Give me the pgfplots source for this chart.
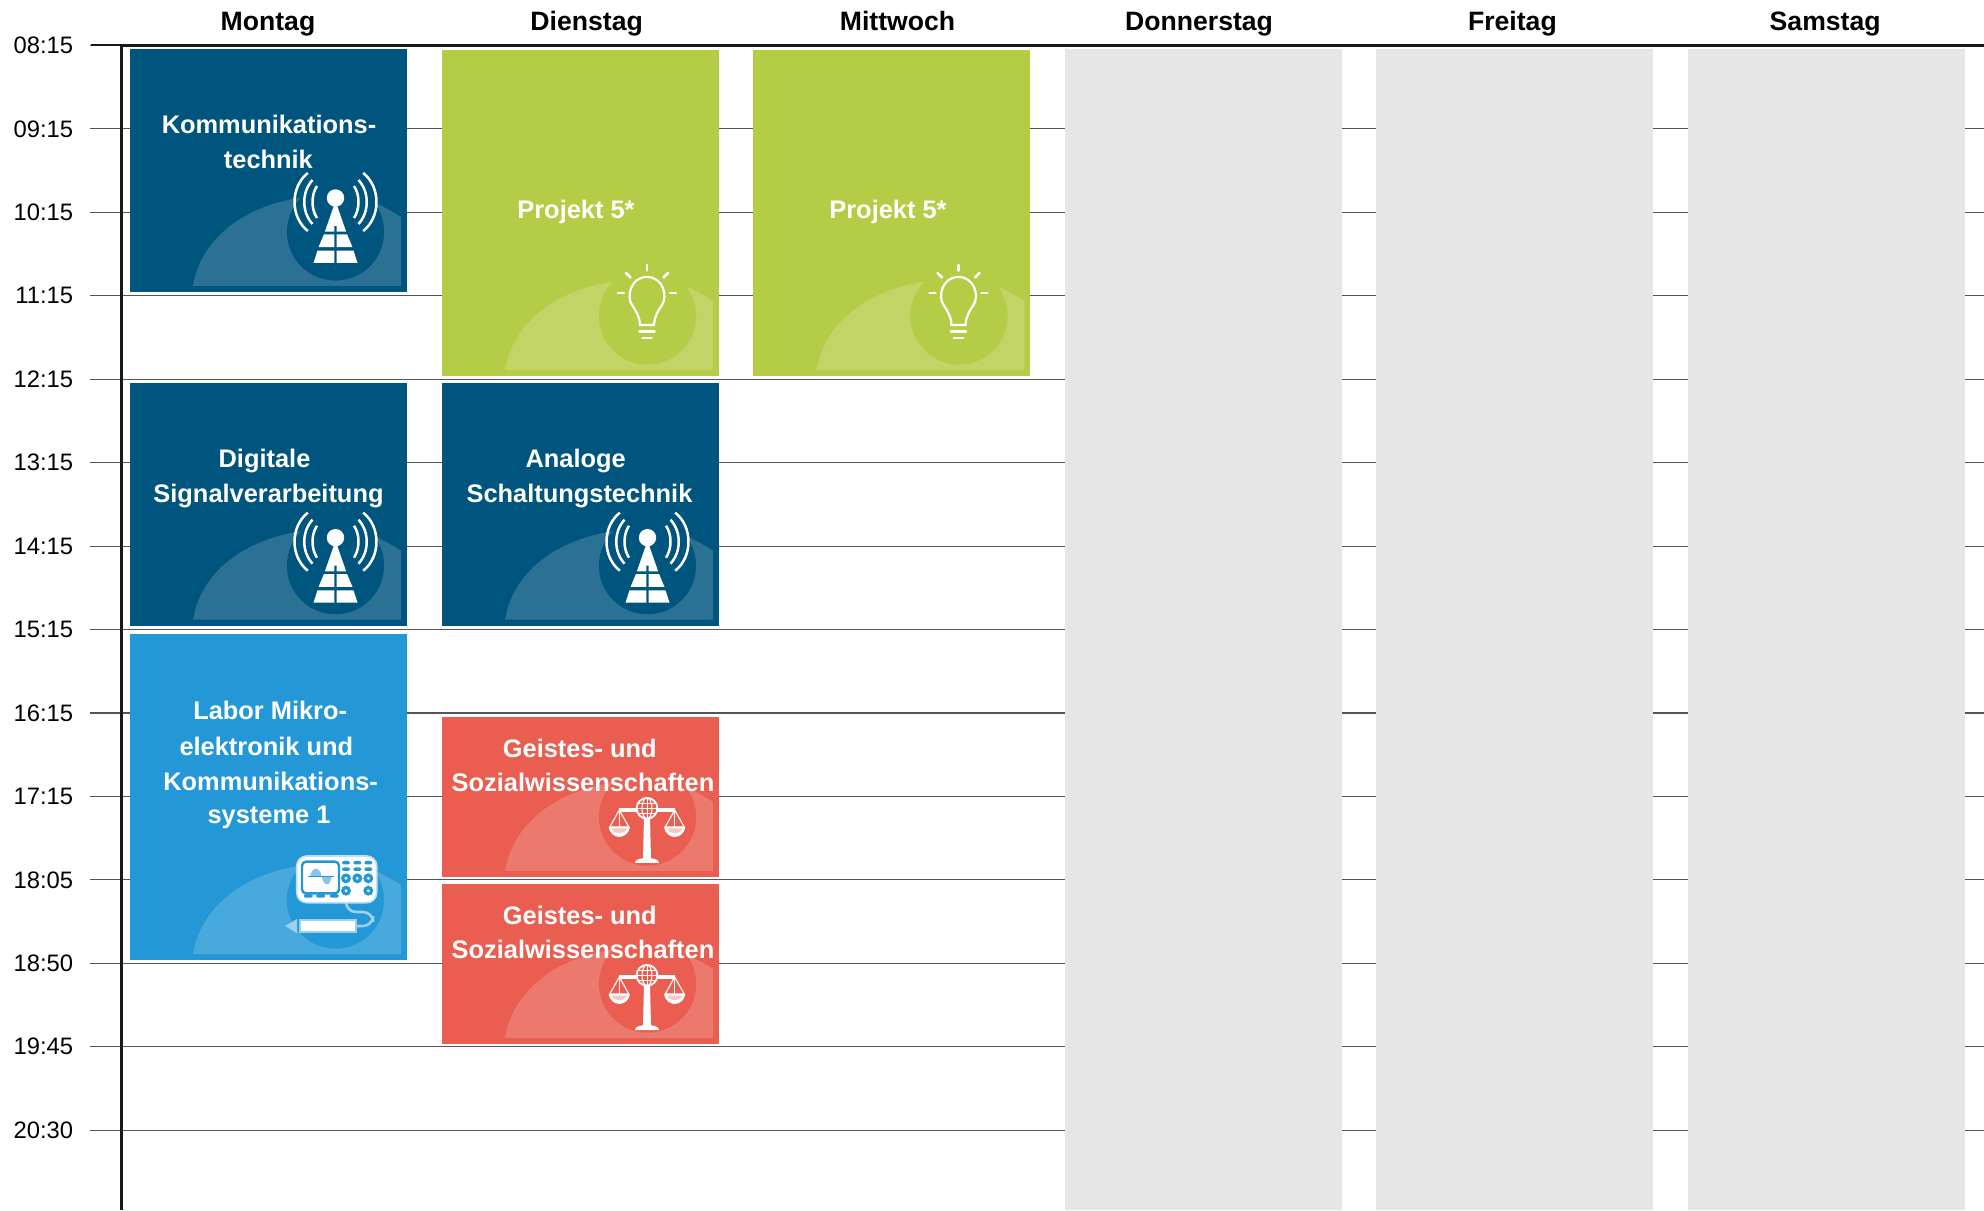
\documentclass[border=0pt]{standalone}
\usepackage{fontspec}
\setmainfont{Liberation Sans}
\usepackage{pgfplots}
\pgfplotsset{compat=1.18}
\definecolor{dkblue}{HTML}{00557F}
\definecolor{ltgreen}{HTML}{B5CC46}
\definecolor{skyblue}{HTML}{2498D6}
\definecolor{coral}{HTML}{E95E50}
\definecolor{greycol}{HTML}{E6E6E6}
\definecolor{gridc}{HTML}{555555}
% icon backdrop, relative to a block's lower right corner, in pixels
\newcommand\backdrop[1]{%
  \fill[white,opacity=.17] (-214,-6) .. controls (-205,-60) and (-150,-97) .. (-72,-97)
     .. controls (-45,-97) and (-25,-87) .. (-6,-75) -- (-6,-6) -- cycle;
  \fill[#1] (-71.5,-60) circle[radius=48.6];
}
\newcommand\antenna[1]{%
  \begin{scope}[shift={(-71.5,#1)}]
    \fill[white] (0,-94) ellipse[x radius=8.7,y radius=8.7];
    \fill[white] (0,-91) -- (-10.6,-60.4) -- (-1.2,-60.4) -- (-1.2,-66) -- (1.2,-66) -- (1.2,-60.4) -- (10.6,-60.4) -- cycle;
    \fill[white] (-11.6,-57.6) -- (-17,-44.8) -- (-1.2,-44.8) -- (-1.2,-57.6) -- cycle;
    \fill[white] (11.6,-57.6) -- (17,-44.8) -- (1.2,-44.8) -- (1.2,-57.6) -- cycle;
    \fill[white] (-18,-41.4) -- (-22,-29) -- (-1.2,-29) -- (-1.2,-41.4) -- cycle;
    \fill[white] (18,-41.4) -- (22,-29) -- (1.2,-29) -- (1.2,-41.4) -- cycle;
    \foreach \s in {-1,1}{
      \draw[white,line width=1.25pt] (\s*27.7,-119) .. controls (\s*45.4,-105) and (\s*45.4,-75) .. (\s*27.7,-61);
      \draw[white,line width=1.25pt] (\s*23,-112) .. controls (\s*34,-100) and (\s*34,-80) .. (\s*23,-68);
      \draw[white,line width=1.25pt] (\s*18.5,-106) .. controls (\s*24.5,-97) and (\s*24.5,-83) .. (\s*18.5,-74);
    }
  \end{scope}
}
\newcommand\bulb{%
  \begin{scope}[shift={(-72,0)}]
    \draw[white,line width=1.1pt] (-7,-51) .. controls (-7.5,-60) and (-11,-65) .. (-15,-71)
      .. controls (-21,-80) and (-16,-99) .. (0,-99)
      .. controls (16,-99) and (21,-80) .. (15,-71)
      .. controls (11,-65) and (7.5,-60) .. (7,-51) -- cycle;
    \draw[white,line width=1.3pt,line cap=round] (-7.5,-44.5) -- (7.5,-44.5);
    \draw[white,line width=1.3pt,line cap=round] (-4.5,-38) -- (4.5,-38);
    \draw[white,line width=1.3pt,line cap=round] (0,-111) -- (0,-105.5);
    \draw[white,line width=1.3pt,line cap=round] (-29,-83) -- (-23,-83);
    \draw[white,line width=1.3pt,line cap=round] (29,-83) -- (23,-83);
    \draw[white,line width=1.3pt,line cap=round] (-21,-103) -- (-16.5,-98.5);
    \draw[white,line width=1.3pt,line cap=round] (21,-103) -- (16.5,-98.5);
  \end{scope}
}
\newcommand\scales{%
  \begin{scope}[shift={(-72,0)}]
    \fill[white] (-28,-69) rectangle (28,-65);
    \fill[white] (-3,-60) -- (3,-60) -- (4,-18) -- (-4,-18) -- cycle;
    \fill[white] (-12,-14) .. controls (-12,-18) and (-5,-19) .. (0,-19)
       .. controls (5,-19) and (12,-18) .. (12,-14) -- cycle;
    \foreach \s in {-1,1}{
      \pgfmathsetmacro\c{\s*27.7}
      \draw[white,line width=.55pt] (\c,-67) -- (\c-9.5,-50) -- (\c+9.5,-50) -- cycle;
      \draw[white,line width=.35pt] (\c,-67) -- (\c,-50);
      \fill[white] (\c-10.8,-50) .. controls (\c-8,-36.7) and (\c+8,-36.7) .. (\c+10.8,-50) -- cycle;
      \fill[white!65!coral] (\c-7.8,-48.5) .. controls (\c-5,-42) and (\c+5,-42) .. (\c+7.8,-48.5) -- cycle;
    }
    \fill[coral] (0,-68.7) circle[radius=11];
    \draw[white,line width=.9pt] (0,-68.7) circle[radius=10.4];
    \draw[white,line width=.5pt] (0,-68.7) ellipse[x radius=5,y radius=10.4];
    \draw[white,line width=.5pt] (0,-79) -- (0,-58.4);
    \draw[white,line width=.5pt] (-10.4,-68.7) -- (10.4,-68.7);
    \draw[white,line width=.5pt] (-9,-73.5) -- (9,-73.5);
    \draw[white,line width=.5pt] (-9,-63.9) -- (9,-63.9);
  \end{scope}
}
\newcommand\oscillo{%
  \draw[white!55!skyblue,line width=1.3pt,rounded corners=5pt] (-61,-58) -- (-61,-48) -- (-34,-48) -- (-34,-34) -- (-51,-34);
  \fill[white,rounded corners=5pt,draw=white!70!skyblue,line width=.8pt] (-110.3,-104) rectangle (-30.3,-57.3);
  \fill[white,draw=skyblue,line width=1.2pt,rounded corners=2pt] (-105,-98.3) rectangle (-68,-66.7);
  \fill[skyblue!55!white] (-97,-83.3) .. controls (-95,-94) and (-87,-94) .. (-85.3,-83.3) -- cycle;
  \fill[skyblue!55!white] (-85.3,-83.3) .. controls (-83,-73) and (-77,-73) .. (-75.3,-83.3) -- cycle;
  \draw[skyblue,line width=.8pt] (-98.7,-83.3) -- (-73,-83.3);
  \foreach \x in {-61,-49.7,-38.7}{
    \fill[skyblue,rounded corners=1pt] (\x-4,-99) rectangle (\x+4,-95.5);
    \fill[skyblue,rounded corners=1pt] (\x-4,-92.5) rectangle (\x+4,-89);
    \fill[skyblue] (\x,-81.7) circle[radius=5];
    \fill[white] (\x,-81.7) circle[radius=1.6];
  }
  \foreach \x in {-61,-38.7}{
    \fill[skyblue] (\x,-69.3) circle[radius=5];
    \fill[white] (\x,-69.3) circle[radius=1.6];
  }
  \foreach \x in {-98.7,-86.3,-72.7}{
    \fill[skyblue,rounded corners=1pt] (\x-4.5,-65.8) rectangle (\x+4.5,-62.3);
  }
  \fill[white,draw=white!55!skyblue,line width=1pt] (-107,-40) rectangle (-51,-28);
  \fill[white!55!skyblue] (-110,-41) -- (-110,-27) -- (-122,-34) -- cycle;
}
\begin{document}
\begin{tikzpicture}
\begin{axis}[
  at={(0,0)},anchor=south west,
  scale only axis,
  width=931.25pt,height=582.3pt,
  xmin=-0.02825,xmax=5.951,
  ymin=0,ymax=13.956,
  y dir=reverse,
  axis x line=top,
  axis y line=left,
  axis line style={-,draw=black!90,line width=1.1pt},
  xtick={0.442,1.465,2.463,3.431,4.437,5.441},
  xticklabels={Montag,Dienstag,Mittwoch,Donnerstag,Freitag,Samstag},
  xticklabel style={font=\fontsize{13.3}{15}\selectfont\bfseries,inner sep=0pt,anchor=base,yshift=-7.8pt},
  x tick style={draw=none},
  major tick length=15.5pt,
  ytick={0,1,2,3,4,5,6,7,8,9,10,11,12,13},
  yticklabels={08:15,09:15,10:15,11:15,12:15,13:15,14:15,15:15,16:15,17:15,18:05,18:50,19:45,20:30},
  yticklabel style={font=\fontsize{11.9}{14}\selectfont,inner sep=0pt,xshift=-8.5pt},
  tick align=outside,
  y tick style={draw=gridc,line width=.55pt},
  ymajorgrids,
  grid style={draw=gridc,line width=.55pt},
  clip=false,
  every axis plot/.append style={draw=none,mark=none,forget plot},
]
% Donnerstag, Freitag, Samstag: blocked columns
\addplot[fill=greycol] coordinates {(3,0.043)(3.889,0.043)(3.889,13.956)(3,13.956)} -- cycle;
\addplot[fill=greycol] coordinates {(4,0.043)(4.889,0.043)(4.889,13.956)(4,13.956)} -- cycle;
\addplot[fill=greycol] coordinates {(5,0.043)(5.889,0.043)(5.889,13.956)(5,13.956)} -- cycle;
% Montag
\addplot[fill=dkblue] coordinates {(0,0.043)(0.889,0.043)(0.889,2.955)(0,2.955)} -- cycle;
\addplot[fill=dkblue] coordinates {(0,4.046)(0.889,4.046)(0.889,6.955)(0,6.955)} -- cycle;
\addplot[fill=skyblue] coordinates {(0,7.053)(0.889,7.053)(0.889,10.96)(0,10.96)} -- cycle;
% Dienstag
\addplot[fill=ltgreen] coordinates {(1,0.055)(1.889,0.055)(1.889,3.962)(1,3.962)} -- cycle;
\addplot[fill=dkblue] coordinates {(1,4.046)(1.889,4.046)(1.889,6.955)(1,6.955)} -- cycle;
\addplot[fill=coral] coordinates {(1,8.048)(1.889,8.048)(1.889,9.965)(1,9.965)} -- cycle;
\addplot[fill=coral] coordinates {(1,10.049)(1.889,10.049)(1.889,11.966)(1,11.966)} -- cycle;
% Mittwoch
\addplot[fill=ltgreen] coordinates {(2,0.055)(2.889,0.055)(2.889,3.962)(2,3.962)} -- cycle;
\end{axis}
\begin{scope}[xshift=-60.75pt,yshift=605pt,x=.5pt,y=-.5pt]
  \newcommand\lbl[3]{\node[anchor=base,text=white,inner sep=0pt,font=\fontsize{12.7}{15}\selectfont\bfseries] at (#1,#2) {#3};}
  \draw[black!90,line width=1.1pt] (91,45.4) -- (121.5,45.4);
  % Montag icons
  \begin{scope}[shift={(407,292)}]\backdrop{dkblue}\antenna{0}\end{scope}
  \begin{scope}[shift={(407,625.7)}]\backdrop{dkblue}\antenna{6}\end{scope}
  \begin{scope}[shift={(407,960)}]\backdrop{skyblue}\oscillo\end{scope}
  % Dienstag icons
  \begin{scope}[shift={(719,376)}]\backdrop{ltgreen}\bulb\end{scope}
  \begin{scope}[shift={(719,625.7)}]\backdrop{dkblue}\antenna{6}\end{scope}
  \begin{scope}[shift={(719,877)}]\backdrop{coral}\scales\end{scope}
  \begin{scope}[shift={(719,1044)}]\backdrop{coral}\scales\end{scope}
  % Mittwoch icon
  \begin{scope}[shift={(1030.5,376)}]\backdrop{ltgreen}\bulb\end{scope}
  % texts
  \lbl{269}{133.8}{Kommunikations-}
  \lbl{268.4}{168.2}{technik}
  \lbl{264.5}{467.8}{Digitale}
  \lbl{268.5}{502.2}{Signalverarbeitung}
  \lbl{270.2}{719.5}{Labor Mikro-}
  \lbl{266.3}{755.2}{elektronik und}
  \lbl{270.6}{790.2}{Kommunikations-}
  \lbl{269}{823.9}{systeme 1}
  \lbl{576}{218.9}{Projekt 5*}
  \lbl{575.7}{467.8}{Analoge}
  \lbl{579.5}{502.2}{Schaltungstechnik}
  \lbl{579.8}{757.9}{Geistes- und}
  \lbl{583}{791.9}{Sozialwissenschaften}
  \lbl{579.8}{924.9}{Geistes- und}
  \lbl{583}{958.9}{Sozialwissenschaften}
  \lbl{888}{218.9}{Projekt 5*}
\end{scope}
\pgfresetboundingbox
\path (-60.75pt,0pt) rectangle (931.25pt,605pt);
\end{tikzpicture}
\end{document}
